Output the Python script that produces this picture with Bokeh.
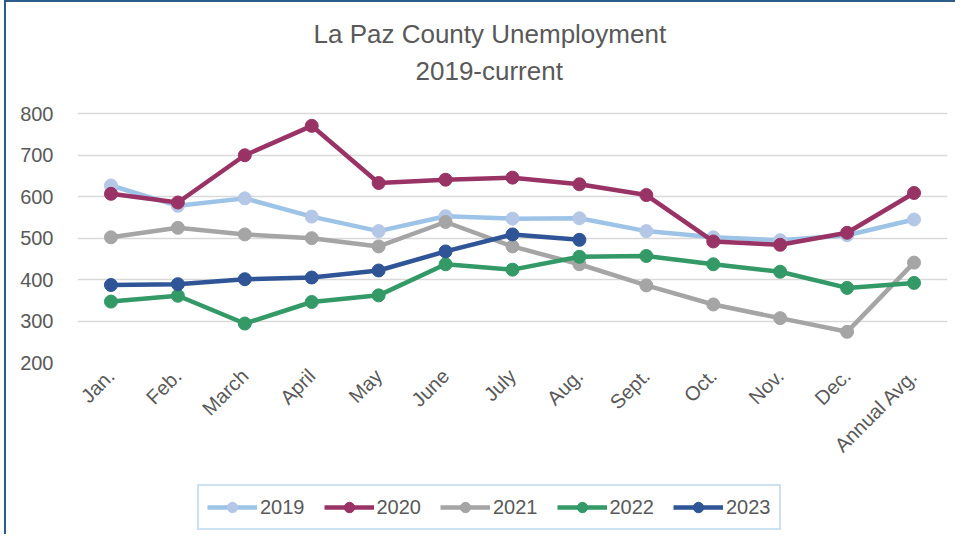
import math
from bokeh.plotting import figure
from bokeh.layouts import column
from bokeh.models import Legend, LegendItem, Title, FactorRange, Range1d, FixedTicker
from bokeh.embed import file_html
from bokeh.resources import INLINE

months = ["Jan.", "Feb.", "March", "April", "May", "June", "July", "Aug.",
          "Sept.", "Oct.", "Nov.", "Dec.", "Annual Avg."]
y2019 = [627, 578, 596, 552, 517, 553, 547, 548, 517, 502, 495, 507, 545]
y2020 = [607, 586, 700, 771, 633, 641, 646, 630, 604, 492, 484, 513, 609]
y2021 = [502, 525, 509, 500, 480, 539, 480, 437, 386, 340, 307, 274, 441]
y2022 = [347, 361, 294, 346, 362, 437, 424, 455, 457, 437, 419, 380, 392]
y2023 = [387, 389, 401, 405, 422, 468, 509, 496]
y_ticks = [200, 300, 400, 500, 600, 700, 800]

series = [
    ("2019", y2019, "#9DC3E6", "#B4C7E7"),
    ("2020", y2020, "#993366", "#993366"),
    ("2021", y2021, "#A5A5A5", "#A5A5A5"),
    ("2022", y2022, "#339966", "#339966"),
    ("2023", y2023, "#2F5597", "#2F5597"),
]

FONT = "Liberation Sans"
W = 949

p = figure(width=W, height=470, output_backend="svg", toolbar_location=None,
           x_range=FactorRange(*months, range_padding=0), y_range=Range1d(200, 849),
           min_border_left=71, min_border_right=8, min_border_top=91, min_border_bottom=110)
p.outline_line_color = None
p.background_fill_color = "white"
p.border_fill_color = "white"

t2 = Title(text="2019-current", align="left", offset=338, text_font=FONT,
           text_font_size="26px", text_color="#595959", text_font_style="normal",
           standoff=16)
t1 = Title(text="La Paz County Unemployment", align="left", offset=236, text_font=FONT,
           text_font_size="26px", text_color="#595959", text_font_style="normal",
           standoff=-6)
p.add_layout(t2, "above")
p.add_layout(t1, "above")

p.xgrid.grid_line_color = None
p.ygrid.grid_line_color = "#D9D9D9"
p.ygrid.grid_line_width = 1.5
p.yaxis.ticker = FixedTicker(ticks=y_ticks)
p.yaxis.axis_line_color = None
p.yaxis.major_tick_line_color = None
p.yaxis.minor_tick_line_color = None
p.yaxis.major_label_standoff = 18
p.yaxis.major_label_text_font = FONT
p.yaxis.major_label_text_font_size = "20px"
p.yaxis.major_label_text_color = "#595959"

p.xaxis.axis_line_color = None
p.xaxis.major_tick_line_color = None
p.xaxis.major_label_orientation = math.pi / 4
p.xaxis.major_label_standoff = 4
p.xaxis.major_label_text_font = FONT
p.xaxis.major_label_text_font_size = "20px"
p.xaxis.major_label_text_color = "#595959"

# legend-only figure below the chart (its view range hides the copies of the lines)
lf = figure(width=W, height=62, output_backend="svg", toolbar_location=None,
            x_range=FactorRange(*months, range_padding=0), y_range=Range1d(1000, 1100),
            min_border_left=0, min_border_right=0, min_border_top=0, min_border_bottom=0)
lf.axis.visible = False
lf.grid.grid_line_color = None
lf.outline_line_color = None
lf.background_fill_color = "white"
lf.border_fill_color = "white"

items = []
for name, vals, lc, mc in series:
    xs = months[:len(vals)]
    p.line(xs, vals, line_color=lc, line_width=4.5)
    p.scatter(xs, vals, marker="circle", size=13, fill_color=mc, line_color=mc)
    l1 = lf.line(xs, vals, line_color=lc, line_width=4.5)
    l2 = lf.scatter(xs, vals, marker="circle", size=13, fill_color=mc, line_color=mc)
    items.append(LegendItem(label=name, renderers=[l1, l2]))

legend = Legend(items=items, orientation="horizontal", location=(120, 4),
                glyph_width=50, glyph_height=26, label_standoff=3, spacing=19,
                padding=8, margin=0, border_line_color="#9DC3E6", border_line_width=2,
                label_text_font=FONT, label_text_font_size="20px",
                label_text_color="#595959", background_fill_alpha=1)
lf.add_layout(legend, "center")

layout = column(p, lf, spacing=0)
layout.styles = {"border-left": "2px solid #2E5C8A", "border-top": "2px solid #2E5C8A",
                 "margin-left": "4px"}

open("out.html", "w").write(file_html(layout, INLINE))
